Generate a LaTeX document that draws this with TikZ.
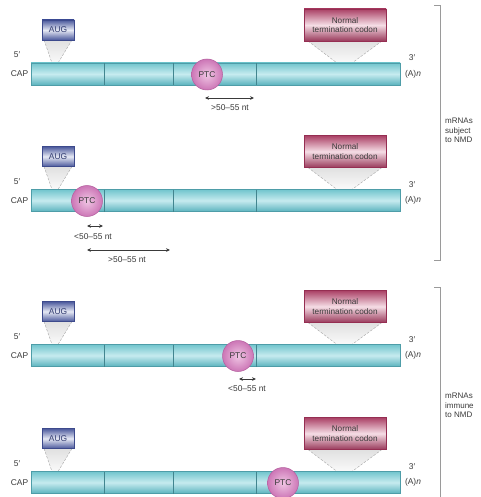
\documentclass[tikz,border=0pt]{standalone}
\usepackage{fontspec}
\setmainfont{Liberation Sans}
\usetikzlibrary{arrows.meta}
\definecolor{txt}{HTML}{3A3A3A}
\definecolor{bartop}{HTML}{72C5CD}
\definecolor{barmid}{HTML}{C6EBEF}
\definecolor{barbot}{HTML}{5BB3BE}
\definecolor{barline}{HTML}{4E9DA8}
\definecolor{augdark}{HTML}{4A589C}
\definecolor{auglight}{HTML}{E6E9F4}
\definecolor{augline}{HTML}{3D4A8C}
\definecolor{tcdark}{HTML}{AA4065}
\definecolor{tclight}{HTML}{F5DDE5}
\definecolor{tcline}{HTML}{952E52}
\definecolor{ptcin}{HTML}{F0C6E4}
\definecolor{ptcout}{HTML}{CC76B6}
\definecolor{ptcline}{HTML}{B45E9E}
\definecolor{brk}{HTML}{9A9A9A}
\tikzset{
  lbl/.style={font=\fontsize{8.4}{10}\selectfont, text=txt, inner sep=0pt},
  mrna/.style={draw=barline, line width=0.5pt, top color=bartop, bottom color=barbot, middle color=barmid,
     minimum width=369pt, minimum height=22pt, inner sep=0pt},
  junction/.style={draw=barline!85!black, line width=0.5pt},
  augbox/.style={draw=augline, line width=0.4pt, top color=augdark, bottom color=augdark, middle color=auglight,
     minimum width=32pt, minimum height=20pt, inner sep=0pt, font=\fontsize{8.4}{10}\selectfont, text=augline!80!black},
  tcbox/.style={draw=tcline, line width=0.4pt, top color=tcdark, bottom color=tcdark!90!black, middle color=tclight,
     minimum width=82pt, minimum height=32pt, inner sep=0pt, align=center, font=\fontsize{8.2}{9.4}\selectfont, text=txt},
  funnel/.style={top color=black!12, bottom color=black!2, draw=none},
  funneledge/.style={draw=black!35, dashed, dash pattern=on 2.5pt off 1.5pt, line width=0.4pt},
  ptc/.style={circle, draw=ptcline, line width=0.5pt, inner color=ptcin, outer color=ptcout,
     minimum size=31pt, inner sep=0pt, font=\fontsize{8.4}{10}\selectfont, text=txt},
  dist/.style={draw=txt, line width=0.75pt, {Stealth[length=4pt,width=3.6pt]}-{Stealth[length=4pt,width=3.6pt]}},
  bracket/.style={draw=brk, line width=0.6pt},
}
\begin{document}
\begin{tikzpicture}[x=1pt, y=-1pt]
\useasboundingbox (0,0) rectangle (480,497);
\fill[white] (0,0) rectangle (480,497);
\foreach \i/\cy/\px in {1/74/207, 2/200.5/87, 3/355.5/238, 4/482.5/283}{
  % funnels
  \pgfmathsetmacro{\bt}{\cy-11}
  \pgfmathsetmacro{\augy}{\cy-44}
  \pgfmathsetmacro{\tcy}{\cy-49}
  \path[funnel] (44,\augy+10) -- (52,\bt) -- (58,\bt) -- (72,\augy+10) -- cycle;
  \draw[funneledge] (44,\augy+10) -- (52,\bt);
  \draw[funneledge] (72,\augy+10) -- (58,\bt);
  \path[funnel] (308,\tcy+16) -- (337,\bt) -- (352,\bt) -- (382,\tcy+16) -- cycle;
  \draw[funneledge] (308,\tcy+16) -- (337,\bt);
  \draw[funneledge] (382,\tcy+16) -- (352,\bt);
  % bar
  \node[mrna] (bar\i) at (215.5,\cy) {};
  \foreach \jx in {104,173,256}{
    \draw[junction] (\jx,\cy-11) -- (\jx,\cy+11);
  }
  % boxes
  \node[augbox] (aug\i) at (58,\augy) {AUG};
  \node[tcbox] (tc\i) at (345,\tcy) {Normal\\termination codon};
  % PTC
  \node[ptc] (ptc\i) at (\px,\cy+0.5) {PTC};
  % end labels
  \node[lbl] (five\i) at (17,\cy-19) {5′};
  \node[lbl] (cap\i) at (19.5,\cy) {CAP};
  \node[lbl] (three\i) at (412,\cy-16) {3′};
  \node[lbl] (polya\i) at (413,\cy) {(A)\textit{n}};
}
% distance arrows
\coordinate (d1a) at (205,98);  \coordinate (d1b) at (254,98);
\draw[dist] (d1a) -- (d1b);
\node[lbl] (l1) at (230,108) {>50–55 nt};
\coordinate (d2a) at (87,226);  \coordinate (d2b) at (103,226);
\draw[dist] (d2a) -- (d2b);
\node[lbl] (l2) at (93,237) {<50–55 nt};
\coordinate (d3a) at (87,250);  \coordinate (d3b) at (170,250);
\draw[dist] (d3a) -- (d3b);
\node[lbl] (l3) at (127,260) {>50–55 nt};
\coordinate (d4a) at (239,379);  \coordinate (d4b) at (256,379);
\draw[dist] (d4a) -- (d4b);
\node[lbl] (l4) at (247,389) {<50–55 nt};
% brackets
\coordinate (b1t) at (434,5); \coordinate (b1b) at (434,260);
\draw[bracket] (b1t) -- (440,5) -- (440,260) -- (b1b);
\coordinate (b2t) at (434,287); \coordinate (b2b) at (440,500);
\draw[bracket] (b2t) -- (440,287) -- (b2b);
\node[lbl, anchor=north west, align=left, font=\fontsize{8}{9.5}\selectfont] (g1) at (445,118) {mRNAs\\subject\\to NMD};
\node[lbl, anchor=north west, align=left, font=\fontsize{8}{9.5}\selectfont] (g2) at (445,393) {mRNAs\\immune\\to NMD};
\end{tikzpicture}
\end{document}
